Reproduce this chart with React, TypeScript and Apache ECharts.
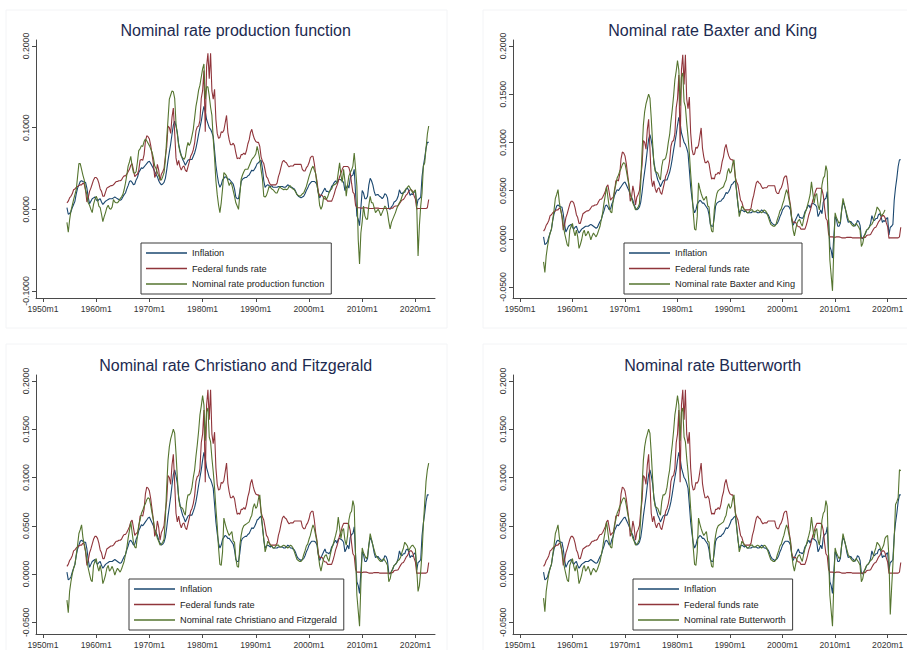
import { useEffect, useRef } from "react";
import * as echarts from "echarts";

// Quarterly observations, first one is 1954m7, in percent.
const firstPeriod = 1954.5;
const periodStep = 0.25;

const inflationPct = [
  /* 1954 */ 0.2, -0.6,
  /* 1955 */ -0.5, -0.3, 0.2, 0.6,
  /* 1956 */ 1.0, 1.9, 2.6, 3.0,
  /* 1957 */ 3.4, 3.5, 3.4, 3.3,
  /* 1958 */ 3.3, 2.6, 1.5, 0.7,
  /* 1959 */ 1.0, 1.3, 1.4, 1.5,
  /* 1960 */ 1.2, 1.0, 1.2, 1.3,
  /* 1961 */ 0.9, 0.6, 0.8, 1.0,
  /* 1962 */ 1.1, 1.2, 1.3, 1.3,
  /* 1963 */ 1.3, 1.4, 1.5, 1.4,
  /* 1964 */ 1.3, 1.2, 1.1, 1.2,
  /* 1965 */ 1.5, 1.8, 2.0, 2.5,
  /* 1966 */ 2.9, 3.4, 3.5, 3.3,
  /* 1967 */ 3.0, 3.1, 3.6, 3.9,
  /* 1968 */ 4.5, 4.8, 5.1, 5.0,
  /* 1969 */ 5.2, 5.4, 5.6, 5.8,
  /* 1970 */ 5.9, 5.6, 5.3, 5.0,
  /* 1971 */ 4.6, 4.3, 4.0, 3.5,
  /* 1972 */ 3.2, 3.0, 3.1, 3.3,
  /* 1973 */ 3.8, 4.8, 6.0, 7.0,
  /* 1974 */ 8.0, 9.2, 10.3, 10.8,
  /* 1975 */ 10.2, 9.4, 8.0, 7.2,
  /* 1976 */ 6.6, 6.1, 5.8, 5.4,
  /* 1977 */ 5.7, 6.0, 6.1, 6.1,
  /* 1978 */ 6.1, 6.5, 6.9, 7.5,
  /* 1979 */ 8.3, 9.2, 10.0, 10.8,
  /* 1980 */ 11.8, 12.6, 12.0, 11.0,
  /* 1981 */ 10.5, 10.0, 9.8, 9.4,
  /* 1982 */ 8.9, 7.2, 5.4, 4.2,
  /* 1983 */ 3.2, 2.7, 3.0, 3.6,
  /* 1984 */ 3.8, 4.0, 3.9, 3.7,
  /* 1985 */ 3.7, 3.5, 3.3, 3.1,
  /* 1986 */ 2.5, 1.5, 1.3, 1.3,
  /* 1987 */ 2.2, 3.4, 3.7, 3.8,
  /* 1988 */ 3.9, 3.9, 4.1, 4.2,
  /* 1989 */ 4.5, 4.8, 4.7, 4.9,
  /* 1990 */ 5.2, 5.6, 5.7, 5.9,
  /* 1991 */ 6.0, 5.0, 3.5, 2.7,
  /* 1992 */ 2.9, 3.0, 2.9, 2.8,
  /* 1993 */ 2.9, 2.7, 2.7, 2.7,
  /* 1994 */ 2.7, 2.8, 2.8, 2.8,
  /* 1995 */ 2.8, 2.7, 2.7, 2.8,
  /* 1996 */ 3.0, 2.9, 2.7, 2.7,
  /* 1997 */ 2.6, 2.5, 2.2, 1.8,
  /* 1998 */ 1.6, 1.5, 1.4, 1.5,
  /* 1999 */ 1.6, 1.9, 2.3, 2.6,
  /* 2000 */ 3.0, 3.2, 3.4, 3.4,
  /* 2001 */ 3.4, 3.3, 3.0, 2.0,
  /* 2002 */ 1.4, 1.7, 2.0, 2.3,
  /* 2003 */ 2.6, 2.2, 2.2, 2.1,
  /* 2004 */ 2.3, 2.8, 3.0, 3.3,
  /* 2005 */ 3.5, 3.2, 3.6, 3.7,
  /* 2006 */ 3.6, 3.5, 3.3, 2.3,
  /* 2007 */ 2.6, 3.0, 2.6, 3.8,
  /* 2008 */ 4.1, 4.2, 4.9, 2.0,
  /* 2009 */ -0.8, -1.2, -2.0, 0.2,
  /* 2010 */ 2.3, 2.0, 1.3, 1.3,
  /* 2011 */ 1.6, 3.0, 3.8, 3.5,
  /* 2012 */ 3.0, 2.2, 1.7, 1.8,
  /* 2013 */ 1.8, 1.6, 1.5, 1.3,
  /* 2014 */ 1.5, 1.9, 1.8, 1.4,
  /* 2015 */ 0.1, 0.0, 0.3, 0.5,
  /* 2016 */ 0.9, 1.0, 1.2, 1.6,
  /* 2017 */ 2.4, 2.0, 1.9, 2.1,
  /* 2018 */ 2.1, 2.5, 2.6, 2.3,
  /* 2019 */ 1.7, 1.9, 1.8, 2.1,
  /* 2020 */ 2.2, 0.4, 1.2, 1.3,
  /* 2021 */ 1.5, 4.0, 5.3, 6.3,
  /* 2022 */ 7.5, 8.2, 8.2,
];

const fedFundsPct = [
  /* 1954 */ 0.8, 1.0,
  /* 1955 */ 1.4, 1.6, 1.9, 2.4,
  /* 1956 */ 2.5, 2.7, 2.8, 2.9,
  /* 1957 */ 3.0, 3.0, 3.2, 3.1,
  /* 1958 */ 2.3, 0.9, 1.4, 2.2,
  /* 1959 */ 2.6, 3.1, 3.6, 3.9,
  /* 1960 */ 3.9, 3.7, 3.2, 2.5,
  /* 1961 */ 2.2, 1.6, 1.6, 2.1,
  /* 1962 */ 2.6, 2.7, 2.8, 2.9,
  /* 1963 */ 2.9, 3.0, 3.2, 3.4,
  /* 1964 */ 3.4, 3.5, 3.5, 3.6,
  /* 1965 */ 3.9, 4.1, 4.1, 4.3,
  /* 1966 */ 4.6, 4.9, 5.4, 5.6,
  /* 1967 */ 4.8, 4.0, 4.2, 4.3,
  /* 1968 */ 4.8, 6.0, 6.1, 6.0,
  /* 1969 */ 6.7, 8.3, 9.0, 8.9,
  /* 1970 */ 8.6, 7.8, 6.7, 5.6,
  /* 1971 */ 3.9, 4.3, 5.5, 4.8,
  /* 1972 */ 3.5, 4.3, 4.6, 5.0,
  /* 1973 */ 6.5, 7.6, 10.2, 10.0,
  /* 1974 */ 9.3, 11.3, 12.4, 9.4,
  /* 1975 */ 6.3, 5.4, 6.0, 5.2,
  /* 1976 */ 4.8, 5.2, 5.3, 4.8,
  /* 1977 */ 4.6, 5.2, 5.8, 6.5,
  /* 1978 */ 6.8, 7.3, 8.1, 9.6,
  /* 1979 */ 10.1, 10.2, 10.9, 13.6,
  /* 1980 */ 14.5, 17.0, 9.5, 17.5,
  /* 1981 */ 19.1, 16.0, 19.1, 14.5,
  /* 1982 */ 13.5, 14.7, 11.0, 9.3,
  /* 1983 */ 8.7, 8.8, 9.5, 9.4,
  /* 1984 */ 9.7, 10.6, 11.5, 9.4,
  /* 1985 */ 8.5, 7.9, 7.9, 8.1,
  /* 1986 */ 7.8, 6.9, 6.2, 6.3,
  /* 1987 */ 6.2, 6.7, 6.7, 6.9,
  /* 1988 */ 6.7, 7.2, 8.0, 8.5,
  /* 1989 */ 9.4, 9.8, 9.1, 8.6,
  /* 1990 */ 8.3, 8.2, 8.2, 7.7,
  /* 1991 */ 6.4, 5.9, 5.6, 4.8,
  /* 1992 */ 4.0, 3.8, 3.3, 3.0,
  /* 1993 */ 3.0, 3.0, 3.0, 3.0,
  /* 1994 */ 3.2, 4.0, 4.5, 5.2,
  /* 1995 */ 5.8, 6.0, 5.8, 5.7,
  /* 1996 */ 5.4, 5.2, 5.3, 5.3,
  /* 1997 */ 5.3, 5.5, 5.5, 5.5,
  /* 1998 */ 5.5, 5.5, 5.5, 4.9,
  /* 1999 */ 4.7, 4.7, 5.1, 5.3,
  /* 2000 */ 5.7, 6.3, 6.5, 6.5,
  /* 2001 */ 5.6, 4.3, 3.5, 2.1,
  /* 2002 */ 1.7, 1.75, 1.7, 1.4,
  /* 2003 */ 1.25, 1.25, 1.0, 1.0,
  /* 2004 */ 1.0, 1.0, 1.4, 1.9,
  /* 2005 */ 2.5, 2.9, 3.4, 4.0,
  /* 2006 */ 4.4, 4.9, 5.25, 5.25,
  /* 2007 */ 5.25, 5.25, 5.1, 4.5,
  /* 2008 */ 3.2, 2.1, 1.9, 0.5,
  /* 2009 */ 0.2, 0.2, 0.2, 0.15,
  /* 2010 */ 0.15, 0.2, 0.2, 0.2,
  /* 2011 */ 0.15, 0.1, 0.1, 0.1,
  /* 2012 */ 0.1, 0.15, 0.15, 0.15,
  /* 2013 */ 0.15, 0.1, 0.1, 0.1,
  /* 2014 */ 0.1, 0.1, 0.1, 0.1,
  /* 2015 */ 0.1, 0.1, 0.15, 0.15,
  /* 2016 */ 0.35, 0.4, 0.4, 0.45,
  /* 2017 */ 0.7, 0.95, 1.15, 1.2,
  /* 2018 */ 1.45, 1.75, 1.9, 2.2,
  /* 2019 */ 2.4, 2.4, 2.2, 1.65,
  /* 2020 */ 1.25, 0.05, 0.1, 0.1,
  /* 2021 */ 0.1, 0.1, 0.1, 0.1,
  /* 2022 */ 0.1, 0.2, 1.2,
];

const prodFunctionPct = [
  /* 1954 */ -1.6, -2.8,
  /* 1955 */ -1.3, -0.2, 0.5, 1.2,
  /* 1956 */ 1.8, 2.4, 4.0, 5.6,
  /* 1957 */ 5.6, 4.9, 4.2, 3.6,
  /* 1958 */ 2.4, 1.8, 0.8, 0.5,
  /* 1959 */ 0.0, -0.4, 0.6, 1.2,
  /* 1960 */ 1.6, 1.2, 0.4, 0.2,
  /* 1961 */ -0.6, -1.5, -0.9, -0.4,
  /* 1962 */ 0.2, 0.5, 0.1, 0.0,
  /* 1963 */ 0.3, 1.2, 0.9, 0.8,
  /* 1964 */ 0.8, 1.0, 1.3, 1.5,
  /* 1965 */ 1.8, 2.4, 3.2, 4.2,
  /* 1966 */ 5.3, 5.8, 6.5, 5.3,
  /* 1967 */ 4.5, 4.4, 4.6, 5.8,
  /* 1968 */ 7.2, 7.4, 7.8, 7.7,
  /* 1969 */ 8.3, 8.6, 8.4, 8.1,
  /* 1970 */ 7.8, 7.4, 7.0, 6.3,
  /* 1971 */ 5.3, 5.0, 4.5, 4.1,
  /* 1972 */ 3.7, 3.6, 4.0, 4.5,
  /* 1973 */ 6.0, 8.6, 11.0, 13.5,
  /* 1974 */ 14.0, 14.5, 14.4, 13.6,
  /* 1975 */ 10.5, 9.2, 7.8, 7.0,
  /* 1976 */ 6.5, 6.3, 6.1, 6.4,
  /* 1977 */ 7.5, 8.2, 7.8, 8.2,
  /* 1978 */ 9.0, 9.8, 11.2, 12.6,
  /* 1979 */ 13.5, 14.6, 15.2, 16.2,
  /* 1980 */ 17.2, 17.8, 13.5, 15.0,
  /* 1981 */ 15.0, 13.9, 12.5, 11.5,
  /* 1982 */ 8.6, 6.3, 3.5, 1.8,
  /* 1983 */ 0.5, -0.4, 0.8, 2.5,
  /* 1984 */ 4.5, 4.3, 4.1, 3.5,
  /* 1985 */ 2.9, 3.3, 3.0, 2.3,
  /* 1986 */ 1.6, 0.8, 0.4, 0.0,
  /* 1987 */ 1.8, 3.7, 4.2, 4.6,
  /* 1988 */ 4.9, 4.9, 4.9, 5.3,
  /* 1989 */ 5.7, 6.1, 6.3, 6.5,
  /* 1990 */ 6.8, 7.7, 7.0, 6.1,
  /* 1991 */ 4.8, 3.7, 1.6, 1.5,
  /* 1992 */ 1.7, 2.2, 2.8, 2.7,
  /* 1993 */ 2.5, 2.4, 2.2, 2.0,
  /* 1994 */ 2.0, 2.4, 2.8, 2.6,
  /* 1995 */ 2.5, 2.4, 2.5, 2.4,
  /* 1996 */ 2.5, 2.8, 2.9, 2.6,
  /* 1997 */ 2.5, 2.4, 2.1, 1.8,
  /* 1998 */ 1.7, 1.6, 1.7, 1.9,
  /* 1999 */ 2.0, 2.4, 2.8, 3.4,
  /* 2000 */ 4.0, 4.5, 5.0, 5.3,
  /* 2001 */ 4.8, 4.4, 3.0, 2.0,
  /* 2002 */ 0.5, 0.0, 0.4, 1.5,
  /* 2003 */ 1.6, 1.2, 1.5, 2.0,
  /* 2004 */ 2.4, 2.5, 2.9, 3.0,
  /* 2005 */ 3.1, 3.3, 4.5, 5.7,
  /* 2006 */ 4.2, 3.3, 4.9, 3.5,
  /* 2007 */ 1.6, 3.0, 4.1, 4.5,
  /* 2008 */ 4.8, 5.3, 6.9, 5.0,
  /* 2009 */ 2.8, -3.7, -6.7, -2.9,
  /* 2010 */ -1.5, 0.4, -0.8, -1.2,
  /* 2011 */ -1.2, 0.5, 1.6, 0.8,
  /* 2012 */ 0.8, 0.2, -0.4, -0.2,
  /* 2013 */ 0.0, -0.3, -0.8, -0.4,
  /* 2014 */ 0.0, 0.4, 0.2, -0.4,
  /* 2015 */ -1.5, -2.4, -1.6, -1.2,
  /* 2016 */ -0.8, -0.4, 0.1, 0.5,
  /* 2017 */ 0.8, 1.1, 1.6, 2.0,
  /* 2018 */ 2.3, 2.5, 2.7, 2.9,
  /* 2019 */ 2.6, 2.3, 2.0, 2.2,
  /* 2020 */ 2.4, 0.4, -5.7, -2.0,
  /* 2021 */ 0.4, 2.0, 5.3, 5.7,
  /* 2022 */ 7.5, 9.2, 10.2,
];

// 1955q1 to 2018q4, where the three band-pass style filters agree.
const filteredCorePct = [
  /* 1955 */ -1.8, -0.8, 0.0, 0.6,
  /* 1956 */ 1.0, 2.0, 3.0, 4.2,
  /* 1957 */ 4.6, 5.1, 3.8, 3.0,
  /* 1958 */ 2.4, 1.5, 0.6, 0.0,
  /* 1959 */ -0.6, -0.8, 0.9, 1.3,
  /* 1960 */ 1.6, 0.8, 0.3, 0.9,
  /* 1961 */ 0.2, -1.0, -0.6, -0.1,
  /* 1962 */ 0.6, 0.9, 0.3, 0.5,
  /* 1963 */ 0.8, 0.4, -0.1, 0.3,
  /* 1964 */ 0.6, 0.4, 0.2, 0.5,
  /* 1965 */ 0.9, 1.3, 2.0, 2.7,
  /* 1966 */ 3.7, 4.5, 5.4, 4.3,
  /* 1967 */ 3.3, 2.8, 2.7, 4.0,
  /* 1968 */ 5.1, 5.6, 6.3, 6.6,
  /* 1969 */ 7.0, 7.3, 7.7, 7.9,
  /* 1970 */ 7.8, 7.1, 6.3, 5.6,
  /* 1971 */ 4.6, 4.2, 3.7, 3.4,
  /* 1972 */ 3.0, 3.1, 3.3, 3.6,
  /* 1973 */ 5.8, 9.0, 11.8, 13.2,
  /* 1974 */ 14.0, 14.5, 15.0, 14.6,
  /* 1975 */ 12.5, 10.0, 7.8, 7.0,
  /* 1976 */ 6.9, 6.8, 6.4, 6.1,
  /* 1977 */ 7.5, 8.2, 8.2, 8.4,
  /* 1978 */ 9.0, 10.0, 10.8, 12.2,
  /* 1979 */ 13.4, 14.8, 16.5, 17.4,
  /* 1980 */ 18.5, 17.5, 13.8, 16.8,
  /* 1981 */ 17.2, 14.2, 13.7, 12.0,
  /* 1982 */ 10.6, 8.9, 6.8, 5.0,
  /* 1983 */ 2.7, 1.0, 0.9, 2.3,
  /* 1984 */ 5.8, 5.2, 4.7, 4.3,
  /* 1985 */ 4.0, 4.2, 4.4, 3.4,
  /* 1986 */ 3.3, 1.6, 0.8, 0.7,
  /* 1987 */ 3.0, 4.0, 4.7, 5.0,
  /* 1988 */ 5.1, 5.2, 5.3, 5.4,
  /* 1989 */ 5.8, 6.1, 6.9, 7.3,
  /* 1990 */ 6.8, 7.0, 7.8, 8.2,
  /* 1991 */ 6.4, 4.8, 3.7, 2.3,
  /* 1992 */ 2.8, 3.4, 3.2, 3.0,
  /* 1993 */ 2.9, 2.7, 2.7, 2.9,
  /* 1994 */ 3.0, 3.0, 2.8, 2.8,
  /* 1995 */ 2.9, 3.0, 2.9, 2.8,
  /* 1996 */ 2.7, 2.8, 3.0, 2.9,
  /* 1997 */ 2.7, 2.3, 1.9, 1.5,
  /* 1998 */ 1.4, 1.3, 1.3, 1.5,
  /* 1999 */ 2.0, 2.4, 2.9, 3.1,
  /* 2000 */ 3.6, 4.0, 4.6, 5.1,
  /* 2001 */ 4.7, 4.0, 3.3, 2.0,
  /* 2002 */ 0.9, 0.3, 1.0, 1.6,
  /* 2003 */ 1.9, 2.0, 1.6, 1.3,
  /* 2004 */ 2.0, 2.6, 3.0, 3.5,
  /* 2005 */ 4.0, 4.6, 5.9, 4.8,
  /* 2006 */ 3.7, 4.5, 4.7, 3.5,
  /* 2007 */ 3.0, 4.0, 5.6, 6.3,
  /* 2008 */ 6.5, 7.6, 7.0, 2.0,
  /* 2009 */ -2.2, -3.8, -5.4, -1.1,
  /* 2010 */ 2.7, 2.2, 1.9, 1.6,
  /* 2011 */ 1.8, 3.0, 4.2, 3.6,
  /* 2012 */ 3.0, 2.5, 2.0, 1.8,
  /* 2013 */ 1.6, 1.4, 1.3, 1.4,
  /* 2014 */ 1.6, 1.4, 1.2, 0.9,
  /* 2015 */ -0.8, -0.5, 0.2, 0.6,
  /* 2016 */ 0.9, 1.0, 1.2, 1.4,
  /* 2017 */ 1.5, 1.8, 2.3, 2.7,
  /* 2018 */ 3.3, 3.1, 2.9, 2.4,
];

const baxterKingHeadPct = [-2.4, -3.5];
const baxterKingTailPct = [2.5, 2.7, 3.0]; // ends 2019q3
const christianoHeadPct = [-2.7, -4.0];
const christianoTailPct = [
  /* 2019 */ 2.7, 2.9, 3.0, 2.8,
  /* 2020 */ 2.6, 0.5, -1.8, -1.2,
  /* 2021 */ 0.3, 2.2, 5.1, 7.4,
  /* 2022 */ 9.6, 10.8, 11.5,
];
const butterworthHeadPct = [-2.5, -3.9];
const butterworthTailPct = [
  /* 2019 */ 2.7, 3.0, 3.7, 3.9,
  /* 2020 */ 4.0, 1.7, -4.2, -1.5,
  /* 2021 */ 1.0, 3.7, 7.2, 7.5,
  /* 2022 */ 7.9, 10.8, 10.7,
];

const baxterKingPct = [...baxterKingHeadPct, ...filteredCorePct, ...baxterKingTailPct];
const christianoPct = [...christianoHeadPct, ...filteredCorePct, ...christianoTailPct];
const butterworthPct = [...butterworthHeadPct, ...filteredCorePct, ...butterworthTailPct];

const xTickYears = [1950, 1960, 1970, 1980, 1990, 2000, 2010, 2020];
const yTicksWide = [-0.1, 0, 0.1, 0.2];
const yTicksFine = [-0.05, 0, 0.05, 0.1, 0.15, 0.2];

const seriesNames = ["Inflation", "Federal funds rate"];
const nominalNames = [
  "Nominal rate production function",
  "Nominal rate Baxter and King",
  "Nominal rate Christiano and Fitzgerald",
  "Nominal rate Butterworth",
];
const nominalData = [prodFunctionPct, baxterKingPct, christianoPct, butterworthPct];

const COLORS = { inflation: "#1a476f", fedFunds: "#90353b", nominal: "#55752f" };
const FONT = "'Liberation Sans', Arial, Helvetica, sans-serif";

const X_MIN = 1948.684;
const X_MAX = 2023.684;

const panels = [
  { left: 36, top: 40, height: 258, yMin: -0.10857, yMax: 0.20735, yTicks: yTicksWide, legendLeft: 141, legendTop: 243, titleX: 235.7, titleY: 30, frameX: 6, frameY: 10 },
  { left: 513, top: 40, height: 258, yMin: -0.06141, yMax: 0.20622, yTicks: yTicksFine, legendLeft: 624, legendTop: 243, titleX: 712.7, titleY: 30, frameX: 483, frameY: 10 },
  { left: 36, top: 375, height: 259, yMin: -0.06212, yMax: 0.20622, yTicks: yTicksFine, legendLeft: 129, legendTop: 579, titleX: 235.7, titleY: 365, frameX: 6, frameY: 344 },
  { left: 513, top: 375, height: 259, yMin: -0.06212, yMax: 0.20622, yTicks: yTicksFine, legendLeft: 633, legendTop: 579, titleX: 712.7, titleY: 365, frameX: 483, frameY: 344 },
];

const toPoints = (pct: number[]) =>
  pct.map((v, i) => [firstPeriod + i * periodStep, v / 100]);

function buildOption(): echarts.EChartsOption {
  const axisColor = "#4a4a4a";
  const labelColor = "#333333";

  const series: any[] = [];
  panels.forEach((_, i) => {
    const lines: [string, number[], string][] = [
      [seriesNames[0], inflationPct, COLORS.inflation],
      [seriesNames[1], fedFundsPct, COLORS.fedFunds],
      [nominalNames[i], nominalData[i], COLORS.nominal],
    ];
    lines.forEach(([name, values, color]) => {
      series.push({
        type: "line",
        name,
        xAxisIndex: i,
        yAxisIndex: i,
        data: toPoints(values),
        symbol: "none",
        showSymbol: false,
        lineStyle: { color, width: 1.1 },
        itemStyle: { color },
        emphasis: { disabled: true },
        silent: true,
      });
    });
  });

  return {
    animation: false,
    backgroundColor: "#ffffff",
    textStyle: { fontFamily: FONT },
    grid: panels.map((p) => ({
      left: p.left,
      top: p.top,
      width: 399,
      height: p.height,
      containLabel: false,
    })),
    xAxis: panels.map((_, i) => ({
      type: "value",
      gridIndex: i,
      min: X_MIN,
      max: X_MAX,
      axisLine: { show: true, onZero: false, lineStyle: { color: axisColor, width: 1 } },
      axisTick: { show: true, customValues: xTickYears, length: 4, lineStyle: { color: axisColor, width: 1 } },
      axisLabel: {
        customValues: xTickYears,
        formatter: (v: number) => `${Math.round(v)}m1`,
        fontSize: 8.6,
        color: labelColor,
        margin: 6.5,
        fontFamily: FONT,
      },
      splitLine: { show: false },
    })),
    yAxis: panels.map((p, i) => ({
      type: "value",
      gridIndex: i,
      min: p.yMin,
      max: p.yMax,
      axisLine: { show: true, onZero: false, lineStyle: { color: axisColor, width: 1 } },
      axisTick: { show: true, customValues: p.yTicks, length: 4, lineStyle: { color: axisColor, width: 1 } },
      axisLabel: {
        customValues: p.yTicks,
        formatter: (v: number) => v.toFixed(4),
        rotate: 90,
        fontSize: 8.7,
        color: labelColor,
        margin: 5.5,
        fontFamily: FONT,
      },
      splitLine: { show: false },
    })),
    legend: panels.map((p, i) => ({
      show: true,
      left: p.legendLeft,
      top: p.legendTop,
      orient: "vertical",
      data: [seriesNames[0], seriesNames[1], nominalNames[i]],
      icon: "rect",
      itemWidth: 41,
      itemHeight: 1.5,
      itemGap: 4.5,
      padding: [4.5, 7, 4.5, 5],
      borderColor: "#3a3a3a",
      borderWidth: 1,
      backgroundColor: "#ffffff",
      selectedMode: false,
      textStyle: { fontSize: 9.2, color: "#222222", lineHeight: 11, fontFamily: FONT },
    })),
    graphic: [
      ...panels.map((p) => ({
        type: "rect",
        silent: true,
        z: 0,
        shape: { x: p.frameX, y: p.frameY, width: 441, height: 318 },
        style: { fill: "none", stroke: "#f3f4f6", lineWidth: 1 },
      })),
      ...panels.map((p, i) => ({
        type: "text",
        silent: true,
        x: p.titleX,
        y: p.titleY,
        style: {
          text: nominalNames[i],
          fontSize: 16,
          fontFamily: FONT,
          fill: "#1c2a50",
          textAlign: "center",
          textVerticalAlign: "middle",
          align: "center",
          verticalAlign: "middle",
        },
      })),
    ],
    series,
  } as any;
}

export default function App() {
  const ref = useRef<HTMLDivElement>(null);

  useEffect(() => {
    if (!ref.current) return;
    const chart = echarts.init(ref.current, undefined, { renderer: "svg" });
    chart.setOption(buildOption());
    return () => chart.dispose();
  }, []);

  return (
    <div
      ref={ref}
      style={{ position: "fixed", left: 0, top: 0, width: 907, height: 650, background: "#ffffff" }}
    />
  );
}
